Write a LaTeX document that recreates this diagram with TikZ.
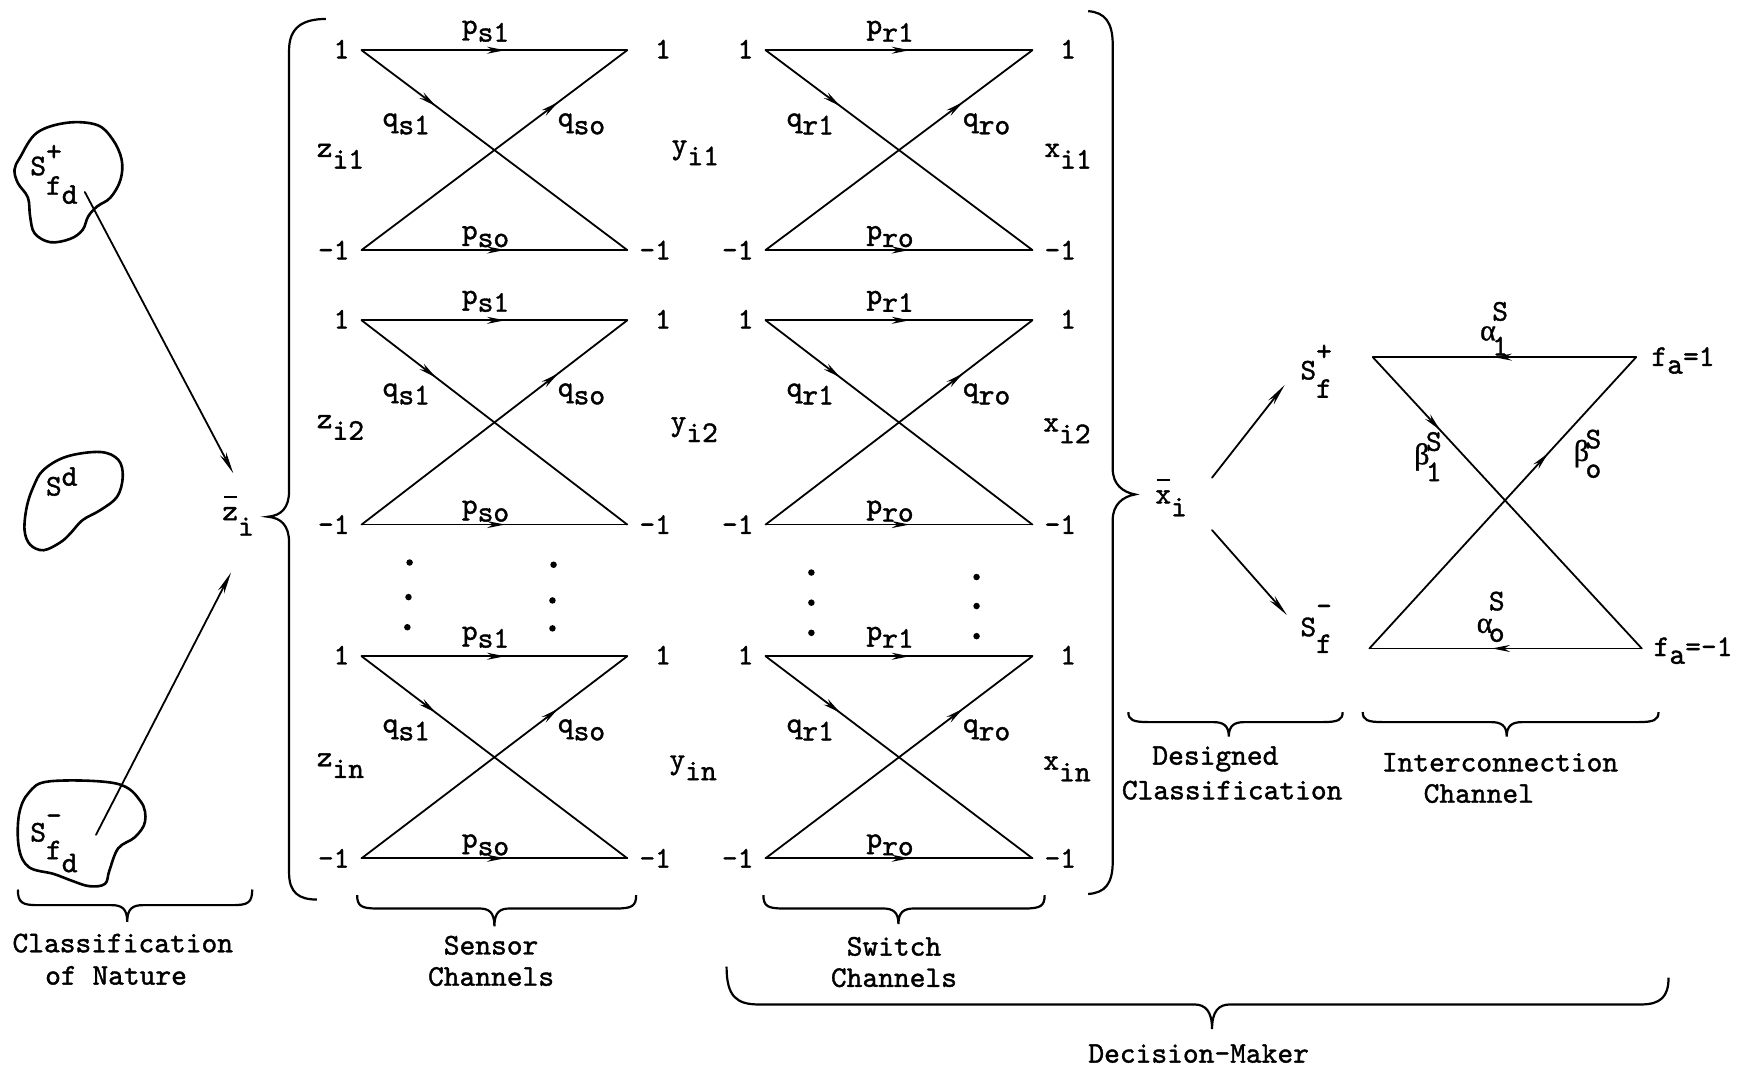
\documentclass[tikz,border=0pt]{standalone}
\usepackage{fontspec}
\newfontfamily\tw{lmmono10-regular}[Extension=.otf, FakeBold=1.3]
\newfontfamily\gk{Liberation Serif}[FakeBold=1.0]
\usetikzlibrary{arrows.meta,decorations.markings}
\newcommand\dn[2][0.35em]{\raisebox{-#1}{#2}}
\newcommand\up[2][0.48em]{\raisebox{#1}{#2}}
\newcommand\barover{\rlap{\hspace{0.05em}\raisebox{0.74em}{\rule{0.43em}{1.8pt}}}}
\newcommand\galpha{{\gk α}}
\newcommand\gbeta{{\gk β}}
\tikzset{
 lbl/.style={font=\fontsize{30}{32}\tw, inner sep=0pt},
 ln/.style={line width=1.8pt, line cap=round},
 blobline/.style={line width=2.6pt},
 brc/.style={line width=2.2pt},
 midarr/.style={postaction={decorate},decoration={markings,mark=at position #1 with {\arrow{Stealth[length=18pt,width=7pt]}}}},
 endarr/.style={-{Stealth[length=22pt,width=7pt]}},
 dotmark/.style={circle,fill,inner sep=0pt,minimum size=6.5pt},
}
% channel block: #1 name, #2 L, #3 R, #4 T, #5 B, #6 letter
\newcommand\chanblock[6]{%
 \coordinate (#1tl) at (#2,#4);
 \coordinate (#1tr) at (#3,#4);
 \coordinate (#1bl) at (#2,#5);
 \coordinate (#1br) at (#3,#5);
 \draw[ln,midarr=0.54] (#1tl) -- (#1tr);
 \draw[ln,midarr=0.54] (#1bl) -- (#1br);
 \draw[ln,midarr=0.28] (#1tl) -- (#1br);
 \draw[ln,midarr=0.74] (#1bl) -- (#1tr);
 \node[lbl] (#1la) at ({#2-18},{#4-1}) {1};
 \node[lbl] (#1ra) at ({#3+32},{#4-1}) {1};
 \node[lbl] (#1lb) at ({#2-25},{#5}) {-1};
 \node[lbl] (#1rb) at ({#3+25},{#5}) {-1};
 \node[lbl] (#1pa) at ({(#2+#3)/2-8},{#4-17}) {p\dn[0.26em]{#61}};
 \node[lbl] (#1pb) at ({(#2+#3)/2-8},{#5-12}) {p\dn[0.26em]{#6o}};
 \node[lbl] (#1qa) at ({#2+40},{#4+66}) {q\dn[0.26em]{#61}};
 \node[lbl] (#1qb) at ({#3-41},{#4+66}) {q\dn[0.26em]{#6o}};
}
% under brace: #1 left x, #2 right x, #3 tip x, #4 end y, #5 horizontal y, #6 tip y
\newcommand\ubrace[6]{%
 \draw[brc] (#1,#4) .. controls (#1,{#5-2}) and ({#1+4},#5) .. ({#1+18},#5) -- ({#3-14},#5)
   .. controls ({#3-5},#5) and (#3,{#5+3}) .. (#3,#6)
   .. controls (#3,{#5+3}) and ({#3+5},#5) .. ({#3+14},#5) -- ({#2-18},#5)
   .. controls ({#2-4},#5) and (#2,{#5-2}) .. (#2,#4);}
\begin{document}
\begin{tikzpicture}[x=1.116pt,y=-1.116pt]
\path[fill=white,use as bounding box] (0,0) rectangle (1568,956);

% ---- Classification of nature: blobs
\draw[blobline] plot[smooth cycle, tension=0.6] coordinates {(18,141) (33,119) (60,110) (87,112) (101,125) (109,143) (108,161) (99,177) (87,185) (79,194) (74,206) (63,214) (45,217) (31,209) (27,194) (25,177) (16,164) (13,152)};
\draw[blobline] plot[smooth cycle, tension=0.6] coordinates {(39,421) (60,409) (90,405) (106,412) (110,427) (105,445) (90,457) (74,466) (63,478) (54,486) (39,493) (27,488) (22,475) (24,454) (30,436)};
\draw[blobline] plot[smooth cycle, tension=0.6] coordinates {(45,700) (104,702) (126,718) (130,736) (121,750) (106,760) (98,780) (94,792) (80,794) (64,789) (48,783) (26,777) (17,760) (17,730) (26,710)};

\node[lbl,anchor=base west] (sfdp) at (27,157) {S\rlap{\up[0.48em]{+}}\dn[0.65em]{f\dn[0.3em]{d}}};
\node[lbl,anchor=base west] (sd) at (41,444) {S\up[0.33em]{d}};
\node[lbl,anchor=base west] (sfdm) at (27,754) {S\rlap{\up[0.56em]{-}}\dn[0.59em]{f\dn[0.43em]{d}}};

\node[lbl,anchor=base west] (zbar) at (199,466) {\barover z\dn[0.52em]{i}};

\coordinate (a1s) at (76,172);
\coordinate (a1e) at (209,424);
\coordinate (a2s) at (86,748);
\coordinate (a2e) at (207,513);
\draw[ln,endarr] (a1s) -- (a1e);
\draw[ln,endarr] (a2s) -- (a2e);

% ---- big braces
\draw[brc] (292,17) .. controls (272,17) and (259,24) .. (259,45) -- (259,440)
  .. controls (259,455) and (252,462) .. (240,463)
  .. controls (252,464) and (259,471) .. (259,486) -- (259,782)
  .. controls (259,800) and (268,806) .. (284,806);
\draw[brc] (975,10) .. controls (990,11) and (997,20) .. (997,40) -- (997,420)
  .. controls (997,434) and (1006,441) .. (1017,443)
  .. controls (1006,445) and (997,452) .. (997,466) -- (997,772)
  .. controls (997,792) and (990,800) .. (975,801);

% ---- channel blocks
\chanblock{sa}{324}{562}{45}{224}{s}
\chanblock{sb}{324}{562}{287}{470}{s}
\chanblock{sc}{324}{562}{588}{769}{s}
\chanblock{wa}{686}{925}{45}{224}{r}
\chanblock{wb}{686}{925}{287}{470}{r}
\chanblock{wc}{686}{925}{588}{769}{r}

\node[lbl] (z1) at (305,140) {z\dn[0.39em]{i1}};
\node[lbl] (y1) at (623,137) {y\dn[0.39em]{i1}};
\node[lbl] (x1) at (957,140) {x\dn[0.39em]{i1}};
\node[lbl] (z2) at (305,383) {z\dn[0.39em]{i2}};
\node[lbl] (y2) at (622,385) {y\dn[0.39em]{i2}};
\node[lbl] (x2) at (956,386) {x\dn[0.39em]{i2}};
\node[lbl] (z3) at (305,686) {z\dn[0.39em]{in}};
\node[lbl] (y3) at (621,688) {y\dn[0.39em]{in}};
\node[lbl] (x3) at (956,689) {x\dn[0.39em]{in}};

% dots
\node[dotmark] (d1) at (367,504) {};
\node[dotmark] (d2) at (366,535) {};
\node[dotmark] (d3) at (365,562) {};
\node[dotmark] (d4) at (496,506) {};
\node[dotmark] (d5) at (495,538) {};
\node[dotmark] (d6) at (495,563) {};
\node[dotmark] (d7) at (727,513) {};
\node[dotmark] (d8) at (727,540) {};
\node[dotmark] (d9) at (727,567) {};
\node[dotmark] (d10) at (875,517) {};
\node[dotmark] (d11) at (875,543) {};
\node[dotmark] (d12) at (875,570) {};

% ---- designed classification
\node[lbl,anchor=base west] (xbar) at (1035,451) {\barover x\dn[0.43em]{i}};
\coordinate (c1s) at (1086,428);
\coordinate (c1e) at (1151,345);
\coordinate (c2s) at (1086,475);
\coordinate (c2e) at (1153,551);
\draw[ln,endarr] (c1s) -- (c1e);
\draw[ln,endarr] (c2s) -- (c2e);
\node[lbl,anchor=base west] (sfp) at (1165,340) {S\rlap{\up[0.63em]{+}}\dn[0.61em]{f}};
\node[lbl,anchor=base west] (sfm) at (1165,570) {S\rlap{\up[0.7em]{-}}\dn[0.56em]{f}};

% ---- interconnection channel
\coordinate (itl) at (1230,320);
\coordinate (itr) at (1466,320);
\coordinate (ibl) at (1227,581);
\coordinate (ibr) at (1471,581);
\draw[ln,midarr=0.54] (itr) -- (itl);
\draw[ln,midarr=0.55] (ibr) -- (ibl);
\draw[ln,midarr=0.25] (itl) -- (ibr);
\draw[ln,midarr=0.67] (ibl) -- (itr);
\node[lbl,anchor=base west] (al1) at (1326,305) {\galpha\hspace{-0.12em}\rlap{\up[0.66em]{S}}\dn[0.5em]{1}};
\node[lbl,anchor=base west] (al0) at (1323,567) {\galpha\hspace{-0.12em}\rlap{\up[0.75em]{S}}\dn[0.3em]{o}};
\node[lbl,anchor=base west] (be1) at (1267,416) {\gbeta\hspace{-0.12em}\rlap{\up[0.45em]{S}}\dn[0.56em]{1}};
\node[lbl,anchor=base west] (be0) at (1410,413) {\gbeta\hspace{-0.12em}\rlap{\up[0.42em]{S}}\dn[0.56em]{o}};
\node[lbl] (fa1) at (1508,323) {f\dn[0.26em]{a}=1};
\node[lbl] (fa0) at (1517,583) {f\dn[0.26em]{a}=-1};

% ---- under braces and captions
\ubrace{16}{226}{114}{797}{811}{826}
\ubrace{320}{570}{443}{802}{814}{830}
\ubrace{684}{936}{805}{802}{814}{828}
\ubrace{1011}{1203}{1101}{638}{647}{660}
\ubrace{1221}{1486}{1350}{638}{647}{660}
\draw[brc] (651,866) .. controls (651,893) and (660,900) .. (680,900) -- (1070,900)
  .. controls (1080,900) and (1086,906) .. (1086,922)
  .. controls (1086,906) and (1092,900) .. (1102,900) -- (1470,900)
  .. controls (1488,900) and (1495,893) .. (1495,876);

\node[lbl] (cn1) at (110,845) {Classification};
\node[lbl] (cn2) at (104,874) {of Nature};
\node[lbl] (sc1) at (440,847) {Sensor};
\node[lbl] (sc2) at (440,875) {Channels};
\node[lbl] (wc1) at (801,848) {Switch};
\node[lbl] (wc2) at (801,876) {Channels};
\node[lbl] (dc1) at (1089,680) {Designed};
\node[lbl] (dc2) at (1104,708) {Classification};
\node[lbl] (ic1) at (1344,683) {Interconnection};
\node[lbl] (ic2) at (1325,711) {Channel};
\node[lbl] (dm) at (1074,944) {Decision-Maker};
\end{tikzpicture}
\end{document}
